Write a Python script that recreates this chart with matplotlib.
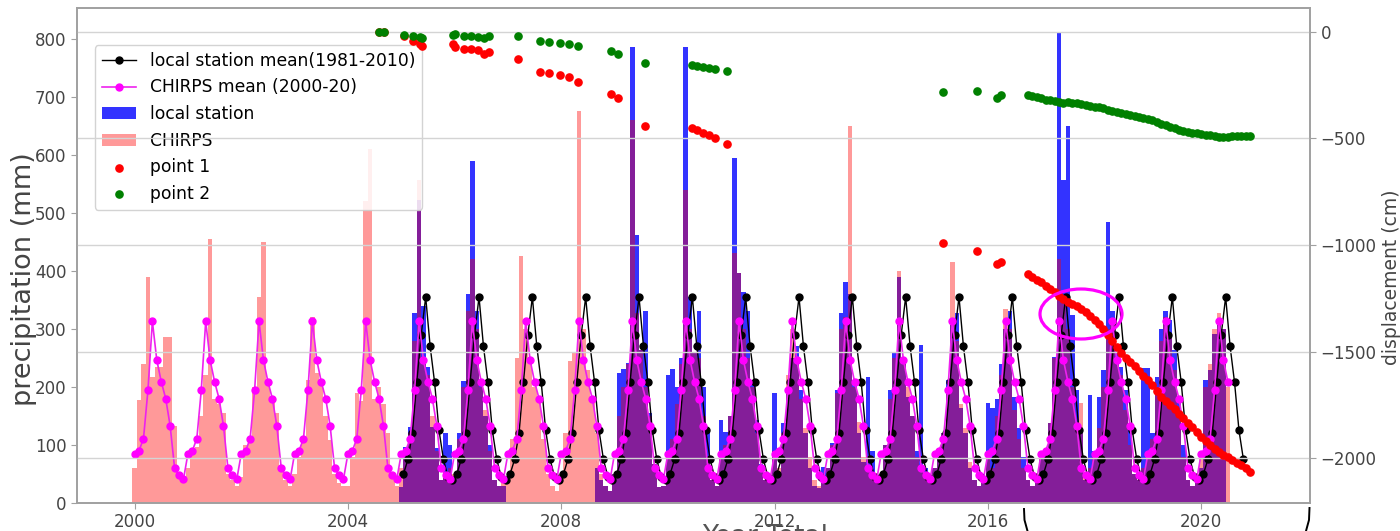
import numpy as np
import matplotlib
matplotlib.use("Agg")
import matplotlib.pyplot as plt
from matplotlib.patches import Ellipse
from matplotlib.lines import Line2D

# ---------------- data ----------------
# CHIRPS monthly precipitation (mm), Jan..Dec
chirps_2000 = [60, 177, 240, 389, 217, 235, 235, 286, 286, 132, 45, 40]
chirps_2001 = [60, 95, 97, 150, 220, 455, 180, 170, 155, 50, 40, 30]
chirps_2002 = [45, 100, 108, 200, 355, 450, 207, 180, 155, 60, 40, 30]
chirps_2003 = [50, 80, 108, 212, 320, 224, 210, 150, 108, 50, 35, 30]
chirps_2004 = [30, 80, 190, 175, 520, 610, 180, 200, 170, 120, 45, 30]
chirps_2005 = [60, 90, 120, 280, 557, 250, 220, 150, 90, 40, 50, 60]
chirps_2006 = [50, 110, 200, 330, 420, 300, 200, 160, 90, 40, 30, 40]
chirps_2007 = [40, 110, 250, 425, 300, 250, 200, 180, 110, 50, 30, 20]
chirps_2008 = [50, 120, 245, 260, 675, 300, 230, 180, 120, 50, 30, 20]
chirps_2009 = [50, 150, 200, 240, 660, 327, 263, 200, 150, 68, 28, 30]
chirps_2010 = [80, 110, 170, 240, 540, 300, 258, 250, 150, 80, 40, 30]
chirps_2011 = [80, 100, 150, 431, 396, 300, 250, 200, 120, 60, 40, 40]
chirps_2012 = [90, 60, 120, 220, 300, 250, 180, 130, 80, 40, 30, 40]
chirps_2013 = [60, 100, 190, 300, 320, 650, 200, 140, 80, 60, 50, 40]
chirps_2014 = [50, 100, 180, 250, 400, 240, 200, 150, 80, 60, 50, 40]
chirps_2015 = [60, 80, 120, 200, 415, 280, 170, 130, 70, 40, 30, 40]
chirps_2016 = [90, 60, 150, 220, 335, 300, 160, 110, 60, 40, 30, 50]
chirps_2017 = [80, 90, 137, 250, 420, 350, 300, 200, 140, 172, 50, 60]
chirps_2018 = [80, 130, 200, 300, 310, 250, 220, 160, 100, 50, 40, 60]
chirps_2019 = [90, 110, 200, 280, 320, 290, 230, 150, 80, 40, 30, 50]
chirps_2020 = [80, 200, 240, 300, 327, 300, 200]

# local station monthly precipitation (mm); 2008 starts in September
station_2005 = [28, 97, 131, 327, 523, 340, 235, 131, 95, 40, 120, 100]
station_2006 = [45, 120, 211, 360, 590, 330, 211, 150, 100, 40, 30, 30]
station_2008_sep_dec = [60, 40, 30, 20]
station_2009 = [50, 224, 231, 241, 785, 462, 263, 330, 155, 68, 28, 30]
station_2010 = [220, 231, 200, 250, 785, 355, 258, 330, 200, 120, 40, 30]
station_2011 = [143, 122, 150, 595, 396, 364, 330, 212, 143, 68, 40, 40]
station_2012 = [190, 50, 137, 200, 250, 270, 194, 120, 60, 30, 25, 62]
station_2013 = [60, 103, 194, 327, 380, 360, 206, 120, 70, 217, 90, 40]
station_2014 = [50, 100, 194, 260, 390, 250, 183, 150, 90, 272, 60, 40]
station_2015 = [60, 90, 120, 212, 315, 327, 163, 120, 60, 40, 30, 40]
station_2016 = [172, 163, 180, 240, 300, 330, 183, 130, 80, 40, 30, 40]
station_2017 = [86, 86, 137, 252, 812, 557, 649, 324, 195, 120, 40, 186]
station_2018 = [90, 183, 230, 485, 330, 258, 235, 195, 137, 50, 40, 232]
station_2019 = [232, 120, 217, 300, 330, 315, 263, 177, 100, 40, 30, 40]
station_2020 = [60, 212, 230, 292, 310, 300]

# monthly climatologies (Jan..Dec)
station_mean_1981_2010 = [50, 75, 120, 209, 290, 355, 270, 208, 125, 75, 45, 40]
chirps_mean_2000_20 = [85, 90, 111, 194, 313, 246, 209, 180, 133, 60, 48, 41]

# displacement (cm), point 1 (red) and point 2 (green)
disp_years_early = [2004.59, 2004.68, 2005.05, 2005.22, 2005.35, 2005.39, 2005.97,
                    2006.01, 2006.18, 2006.31, 2006.43, 2006.55, 2006.65, 2007.19,
                    2007.60, 2007.77, 2007.98, 2008.15, 2008.32, 2008.94, 2009.06,
                    2009.57, 2010.45, 2010.55, 2010.66, 2010.77, 2010.88, 2011.11]
point1_early = [0, -2, -20, -45, -57, -65, -57, -73, -81, -81, -88, -104, -96, -127,
                -190, -192, -205, -213, -236, -290, -313, -443, -452, -462, -475,
                -485, -497, -526]
point2_early = [0, 0, -15, -22, -27, -30, -17, -11, -19, -22, -23, -29, -19, -19,
                -42, -47, -54, -57, -65, -90, -104, -149, -157, -160, -165, -170,
                -176, -185]

disp_years_mid = [2015.16, 2015.80, 2016.17, 2016.25]
point1_mid = [-992, -1030, -1090, -1079]
point2_mid = [-284, -278, -313, -298]

disp_start_late = 2016.75   # monthly acquisitions from here on
point1_late = [-1136, -1150, -1162, -1172, -1190, -1206, -1222, -1240, -1255, -1265,
               -1275, -1287, -1300, -1315, -1333, -1350, -1372, -1395, -1420, -1450,
               -1478, -1505, -1530, -1550, -1568, -1590, -1612, -1632, -1655, -1685,
               -1710, -1730, -1752, -1770, -1790, -1812, -1835, -1855, -1878, -1898,
               -1918, -1935, -1955, -1970, -1982, -1995, -2008, -2020, -2030, -2045,
               -2062]
point2_late = [-298, -302, -307, -312, -318, -322, -326, -330, -333, -330,
               -332, -336, -340, -344, -348, -352, -355, -360, -366, -372,
               -377, -381, -385, -389, -393, -398, -404, -410, -416, -424,
               -431, -437, -445, -453, -460, -466, -470, -473, -476, -479,
               -482, -485, -489, -493, -495, -492, -489, -487, -488, -489,
               -489]

year_ticks = [2000, 2004, 2008, 2012, 2016, 2020]
precip_ticks = [0, 100, 200, 300, 400, 500, 600, 700, 800]
disp_ticks = [0, -500, -1000, -1500, -2000]

# ---------------- assemble series ----------------
def month_starts(year, n, first=0):
    return [year + (first + k) / 12.0 for k in range(n)]

chirps_years = [chirps_2000, chirps_2001, chirps_2002, chirps_2003, chirps_2004,
                chirps_2005, chirps_2006, chirps_2007, chirps_2008, chirps_2009,
                chirps_2010, chirps_2011, chirps_2012, chirps_2013, chirps_2014,
                chirps_2015, chirps_2016, chirps_2017, chirps_2018, chirps_2019,
                chirps_2020]
chirps_x, chirps_v = [], []
for i, vals in enumerate(chirps_years):
    chirps_x += month_starts(2000 + i, len(vals))
    chirps_v += vals

station_blocks = [(2005, 0, station_2005), (2006, 0, station_2006),
                  (2008, 8, station_2008_sep_dec), (2009, 0, station_2009),
                  (2010, 0, station_2010), (2011, 0, station_2011),
                  (2012, 0, station_2012), (2013, 0, station_2013),
                  (2014, 0, station_2014), (2015, 0, station_2015),
                  (2016, 0, station_2016), (2017, 0, station_2017),
                  (2018, 0, station_2018), (2019, 0, station_2019),
                  (2020, 0, station_2020)]
station_x, station_v = [], []
for yr, first, vals in station_blocks:
    station_x += month_starts(yr, len(vals), first)
    station_v += vals

# climatology lines
n_chirps_mean = len(chirps_x)
chirps_mean_x = chirps_x
chirps_mean_v = [chirps_mean_2000_20[k % 12] for k in range(n_chirps_mean)]
n_st = (2020 - 2005) * 12 + 10           # Jan 2005 .. Oct 2020
station_mean_x = [2005 + (k + 0.5) / 12.0 for k in range(n_st)]
station_mean_v = [station_mean_1981_2010[k % 12] for k in range(n_st)]

late_x = [disp_start_late + k / 12.0 for k in range(len(point1_late))]
p_x = disp_years_early + disp_years_mid + late_x
p1 = point1_early + point1_mid + point1_late
p2 = point2_early + point2_mid + point2_late

# ---------------- figure ----------------
W, H = 1400, 531
fig = plt.figure(figsize=(W / 100, H / 100), dpi=100)
ax1 = fig.add_axes([77 / W, 1 - 503 / H, (1310 - 77) / W, (503 - 8) / H])
ax2 = ax1.twinx()

bw = 1 / 12.0
ax1.bar(station_x, station_v, width=bw, color="blue", alpha=0.8, linewidth=0,
        label="local station", zorder=1)
ax1.bar(chirps_x, chirps_v, width=bw, color="red", alpha=0.4, linewidth=0,
        label="CHIRPS", zorder=1)
ax1.plot(station_mean_x, station_mean_v, color="black", marker="o", ms=5,
         lw=1, label="local station mean(1981-2010)", zorder=3)
ax1.plot(chirps_mean_x, chirps_mean_v, color="#ee22ee", marker="o", ms=5,
         mfc="magenta", mec="magenta", lw=1.2, label="CHIRPS mean (2000-20)",
         zorder=4)

ax2.scatter(p_x, p1, s=27, color="red", label="point 1", zorder=5)
ax2.scatter(p_x, p2, s=27, color="green", label="point 2", zorder=5)

ax1.set_xlim(1998.92, 2022.04)
ax1.set_ylim(0, 853)
ax2.set_ylim(-2209, 111)

ax1.set_xticks(year_ticks)
ax1.set_xticklabels([str(y) for y in year_ticks])
ax1.set_yticks(precip_ticks)
ax2.set_yticks(disp_ticks)
ax2.grid(True, axis="y", color="#d4d4d4", lw=1)
ax1.set_axisbelow(True)

for ax in (ax1, ax2):
    for s in ax.spines.values():
        s.set_color("#a0a0a0")
        s.set_linewidth(1.2)
    ax.tick_params(labelsize=12, labelcolor="#444444", color="#a0a0a0", length=4)

ax1.set_ylabel("precipitation (mm)", fontsize=19.5, color="#444444")
ax1.yaxis.set_label_coords((37 - 77) / 1233, (503 - 279) / 495)
ax2.set_ylabel("displacement (cm)", fontsize=13.5, color="#444444")
ax2.yaxis.set_label_coords((1382 - 77) / 1233, (503 - 277) / 495)

h1, l1 = ax1.get_legend_handles_labels()
h2, l2 = ax2.get_legend_handles_labels()
order = ["local station mean(1981-2010)", "CHIRPS mean (2000-20)",
         "local station", "CHIRPS"]
hh = [h1[l1.index(o)] for o in order] + h2
ll = order + l2
ax1.legend(hh, ll, loc="upper left", bbox_to_anchor=(0.0146, 0.925),
           borderaxespad=0, fontsize=12.3, framealpha=0.85, edgecolor="#cccccc",
           handlelength=2.0)

# cropped title and x label of the original figure
fig.text(766 / W, 1 + 6 / H, "precipitation", fontsize=21.5, fontweight="bold",
         ha="left", va="baseline", color="black")
fig.text(765 / W, 1 - 544 / H, "Year Total", fontsize=19, color="#555555",
         ha="center", va="baseline")

# annotations drawn over the figure
fig.add_artist(Ellipse((1081 / W, 1 - 314 / H), 82 / W, 50 / H, fill=False,
                       edgecolor="magenta", lw=2.3, transform=fig.transFigure))
fig.add_artist(Line2D([1024 / W, 1024.5 / W, 1027.5 / W],
                      [1 - 509 / H, 1 - 520 / H, 1 - 531 / H],
                      color="black", lw=1.4, transform=fig.transFigure))
fig.add_artist(Line2D([1309.5 / W, 1309 / W, 1306 / W],
                      [1 - 508 / H, 1 - 520 / H, 1 - 531 / H],
                      color="black", lw=1.4, transform=fig.transFigure))

fig.savefig("out.png", dpi=100)
